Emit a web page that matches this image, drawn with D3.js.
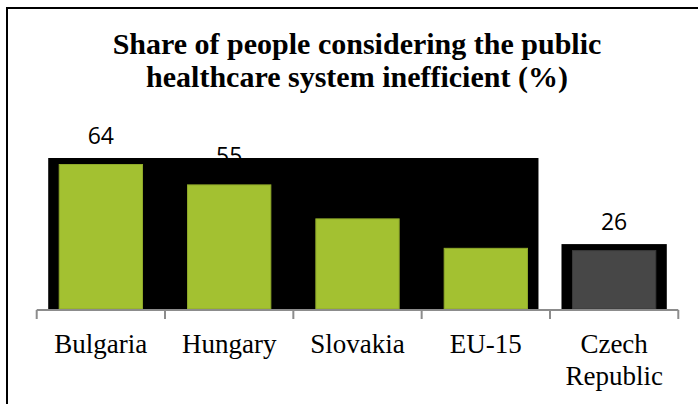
<!DOCTYPE html>
<html lang="en">
<head>
  <meta charset="UTF-8">
  <title>Share of people considering the public healthcare system inefficient</title>
  <script src="https://d3js.org/d3.v7.min.js"></script>
  <style>
    body { margin: 0; background: #fff; }
    .title { font-family: "Liberation Serif", serif; font-weight: bold; font-size: 30px; fill: #000; }
    .cat { font-family: "Liberation Serif", serif; font-size: 27px; fill: #000; }
    .val { font-family: "Open Sans", sans-serif; font-size: 23px; fill: #000; }
  </style>
</head>
<body>
  <svg id="chart" width="698" height="404"></svg>
  <script>
    // chart data
    const categories = ["Bulgaria", "Hungary", "Slovakia", "EU-15", "Czech Republic"];
    const values = [64, 55, 40, 27, 26];
    const groups = ["new", "new", "new", "new", "cz"];
    const titleLines = ["Share of people considering the public", "healthcare system inefficient (%)"];

    const svg = d3.select("#chart");
    const width = +svg.attr("width");
    const height = +svg.attr("height");

    const colors = { new: "#a3c131", cz: "#474747" };
    const strokes = { new: "#8fa92a", cz: "#3a3a3a" };

    // frame (only top and left edges visible in the picture)
    svg.append("rect")
      .attr("x", 7).attr("y", 8)
      .attr("width", width + 10).attr("height", height + 10)
      .attr("fill", "none").attr("stroke", "#000").attr("stroke-width", 2);

    // title
    svg.append("g").selectAll("text")
      .data(titleLines)
      .enter().append("text")
      .attr("class", "title")
      .attr("x", 357)
      .attr("y", (d, i) => 54 + i * 33)
      .attr("text-anchor", "middle")
      .text(d => d);

    const x = d3.scaleBand()
      .domain(categories)
      .range([36.7, 678.3])
      .paddingInner(0.343)
      .paddingOuter(0.1715);

    const y = d3.scaleLinear()
      .domain([0, 64])
      .range([309, 164]);

    const data = categories.map((c, i) => ({ cat: c, value: values[i], group: groups[i] }));

    // value labels (drawn first, the black block covers some of them)
    svg.append("g").selectAll("text")
      .data(data)
      .enter().append("text")
      .attr("class", "val")
      .attr("x", d => x(d.cat) + x.bandwidth() / 2)
      .attr("y", d => y(d.value) - 20)
      .attr("text-anchor", "middle")
      .text(d => d.value);

    // black backing blocks per series
    const pad = 10.5;
    const blocks = d3.groups(data, d => d.group).map(([g, rows]) => ({
      x0: d3.min(rows, d => x(d.cat)) - pad,
      x1: d3.max(rows, d => x(d.cat) + x.bandwidth()) + pad,
      top: y(d3.max(rows, d => d.value)) - 6
    }));
    svg.append("g").selectAll("rect")
      .data(blocks)
      .enter().append("rect")
      .attr("x", d => d.x0)
      .attr("y", d => d.top)
      .attr("width", d => d.x1 - d.x0)
      .attr("height", d => y(0) + 1 - d.top)
      .attr("fill", "#000");

    // bars
    svg.append("g").selectAll("rect")
      .data(data)
      .enter().append("rect")
      .attr("x", d => x(d.cat) + 0.5)
      .attr("y", d => y(d.value) + 0.5)
      .attr("width", x.bandwidth() - 1)
      .attr("height", d => y(0) - y(d.value) - 0.5)
      .attr("fill", d => colors[d.group])
      .attr("stroke", d => strokes[d.group])
      .attr("stroke-width", 1);

    // category axis: line with ticks between categories
    const axisY = y(0) + 1;
    const x0 = x.range()[0];
    const step = x.step();
    const axis = svg.append("g").attr("stroke", "#8c8c8c").attr("stroke-width", 2);
    axis.append("line")
      .attr("x1", x0).attr("x2", x.range()[1])
      .attr("y1", axisY).attr("y2", axisY);
    axis.selectAll("line.tick")
      .data(d3.range(categories.length + 1))
      .enter().append("line")
      .attr("class", "tick")
      .attr("x1", i => x0 + i * step).attr("x2", i => x0 + i * step)
      .attr("y1", axisY).attr("y2", axisY + 9);

    // category labels (wrap on spaces for the two-word label)
    const labels = svg.append("g").selectAll("text")
      .data(categories)
      .enter().append("text")
      .attr("class", "cat")
      .attr("text-anchor", "middle")
      .attr("x", d => x(d) + x.bandwidth() / 2)
      .attr("y", 353);
    labels.each(function(d) {
      const words = d === "Czech Republic" ? d.split(" ") : [d];
      const t = d3.select(this);
      words.forEach((w, i) => {
        t.append("tspan")
          .attr("x", x(d) + x.bandwidth() / 2)
          .attr("dy", i === 0 ? 0 : 32)
          .text(w);
      });
    });
  </script>
</body>
</html>
